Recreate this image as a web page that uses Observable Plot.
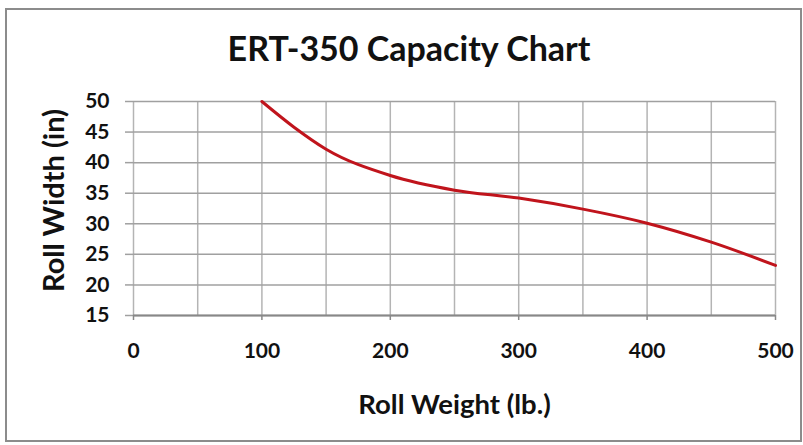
<!DOCTYPE html>
<html>
<head>
<meta charset="utf-8">
<script src="https://cdn.jsdelivr.net/npm/d3@7"></script>
<script src="https://cdn.jsdelivr.net/npm/@observablehq/plot@0.6"></script>
<style>
  html, body { margin: 0; padding: 0; background: #fff; }
  #wrap { position: relative; width: 803px; height: 445px; overflow: hidden; font-family: Lato, "Open Sans", sans-serif; }
  #frame { position: absolute; left: 5px; top: 8px; width: 793px; height: 430px; border: 2px solid #8c8c8c; box-sizing: content-box; }
  #title { position: absolute; left: 0; width: 818px; top: 31px; line-height: 1; text-align: center; font-size: 34px; font-weight: bold; color: #111; }
  #chart { position: absolute; left: 0; top: 0; }
</style>
</head>
<body>
<div id="wrap">
  <div id="frame"></div>
  <div id="title">ERT-350 Capacity Chart</div>
  <div id="chart"></div>
</div>
<script>
const rollWeight = [100, 125, 150, 200, 250, 300, 350, 400, 450, 500];
const rollWidth  = [50, 45.8, 42.2, 37.9, 35.5, 34.2, 32.4, 30.1, 27.0, 23.2];
const xTicks = [0, 100, 200, 300, 400, 500];
const xGrid = [0, 50, 100, 150, 200, 250, 300, 350, 400, 450, 500];
const yTicks = [15, 20, 25, 30, 35, 40, 45, 50];
const xTitle = "Roll Weight (lb.)";
const yTitle = "Roll Width (in)";

const data = rollWeight.map((w, i) => ({weight: w, width: rollWidth[i]}));

const chart = Plot.plot({
  width: 803,
  height: 445,
  marginLeft: 133,
  marginRight: 28,
  marginTop: 101,
  marginBottom: 130,
  style: {fontFamily: "Lato, 'Open Sans', sans-serif", background: "transparent", color: "#000"},
  x: {domain: [0, 500]},
  y: {domain: [15, 50]},
  marks: [
    Plot.ruleX(xGrid, {stroke: "#b4b4b4", strokeWidth: 1.5}),
    Plot.ruleY(yTicks, {stroke: "#a0a0a0", strokeWidth: 1.5}),
    Plot.ruleY([15], {stroke: "#888", strokeWidth: 2}),
    Plot.axisY({ticks: yTicks, tickSize: 8, stroke: "#a0a0a0", strokeWidth: 1.5, tickPadding: 16, fontSize: 21, fontWeight: "bold", fill: "#111", label: null}),
    Plot.axisX({ticks: xTicks, tickSize: 5, stroke: "#888", strokeWidth: 1.5, tickPadding: 23, fontSize: 21, fontWeight: "bold", fill: "#111", label: null}),
    Plot.text([xTitle], {text: d => d, frameAnchor: "bottom", lineAnchor: "middle", dy: 90, fontSize: 27.5, fontWeight: "bold", fill: "#111"}),
    Plot.text([yTitle], {text: d => d, frameAnchor: "left", textAnchor: "middle", lineAnchor: "middle", rotate: -90, dx: -79, dy: -8, fontSize: 29, fontWeight: "bold", fill: "#111"}),
    Plot.line(data, {x: "weight", y: "width", stroke: "#c0141c", strokeWidth: 3, curve: "monotone-x"})
  ]
});
document.getElementById("chart").appendChild(chart);
</script>
</body>
</html>
